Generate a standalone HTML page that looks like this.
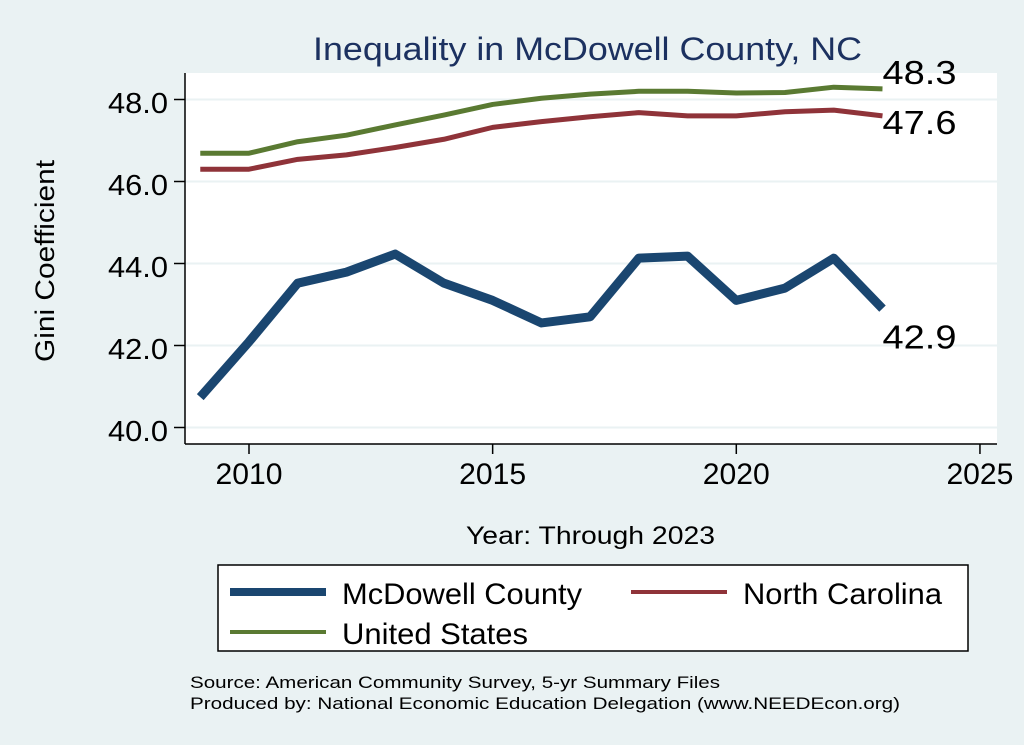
<!DOCTYPE html>
<html><head><meta charset="utf-8"><style>
body{margin:0;background:#eaf2f3;}
svg{display:block;font-family:"Liberation Sans",sans-serif;}
</style></head><body>
<svg width="1024" height="745">
<rect x="0" y="0" width="1024" height="745" fill="#eaf2f3"/>
<text x="313" y="60" font-size="32" fill="#1c3160" textLength="549" lengthAdjust="spacingAndGlyphs">Inequality in McDowell County, NC</text>
<rect x="185" y="73" width="812" height="371" fill="#fff"/>
<g id="grid"></g>
<g id="series"></g>
<g id="axes"></g>
<text transform="translate(54,362) rotate(-90)" font-size="27" fill="#000" textLength="202" lengthAdjust="spacingAndGlyphs">Gini Coefficient</text>
<text x="466" y="544" font-size="25" fill="#000" textLength="249" lengthAdjust="spacingAndGlyphs">Year: Through 2023</text>
<g>
<rect x="218" y="565" width="750" height="86" fill="#fff" stroke="#000" stroke-width="1.5"/>
<g><line x1="230" y1="592" x2="326" y2="592" stroke="#1a4670" stroke-width="8"/><text x="342" y="604" font-size="30" textLength="240" lengthAdjust="spacingAndGlyphs">McDowell County</text></g>
<g><line x1="631" y1="592" x2="727" y2="592" stroke="#8f3339" stroke-width="4"/><text x="743" y="604" font-size="30" textLength="199" lengthAdjust="spacingAndGlyphs">North Carolina</text></g>
<g><line x1="230" y1="632" x2="326" y2="632" stroke="#5a7a32" stroke-width="4"/><text x="342" y="644" font-size="30" textLength="186" lengthAdjust="spacingAndGlyphs">United States</text></g>
</g>
<text x="190" y="688" font-size="17" textLength="530" lengthAdjust="spacingAndGlyphs">Source: American Community Survey, 5-yr Summary Files</text>
<text x="190" y="709" font-size="17" textLength="710" lengthAdjust="spacingAndGlyphs">Produced by: National Economic Education Delegation (www.NEEDEcon.org)</text>
</svg>
<script>
const years=[2009,2010,2011,2012,2013,2014,2015,2016,2017,2018,2019,2020,2021,2022,2023];
const mcdowell=[40.74,42.09,43.52,43.79,44.23,43.52,43.1,42.55,42.7,44.13,44.18,43.1,43.4,44.13,42.9];
const northCarolina=[46.3,46.3,46.54,46.65,46.83,47.03,47.32,47.46,47.58,47.68,47.6,47.6,47.7,47.74,47.6];
const unitedStates=[46.69,46.69,46.97,47.13,47.38,47.62,47.88,48.03,48.13,48.2,48.2,48.16,48.17,48.3,48.26];
const yTicks=[40,42,44,46,48];
const xTicks=[2010,2015,2020,2025];
const endLabels=["42.9","47.6","48.3"];
const NS="http://www.w3.org/2000/svg";
const xs=v=>249+(v-2010)*48.73;
const ys=v=>99.5+(48-v)*41;
function mk(t,a,p){const e=document.createElementNS(NS,t);for(const k in a)e.setAttribute(k,a[k]);p.appendChild(e);return e;}
const grid=document.getElementById('grid'),axes=document.getElementById('axes'),ser=document.getElementById('series');
yTicks.forEach(v=>{
 const g=mk('line',{x1:185,x2:997,y1:ys(v),y2:ys(v),stroke:'#eaf2f3','stroke-width':2},grid);
 
 
 mk('line',{x1:174,x2:185,y1:ys(v),y2:ys(v),stroke:'#000','stroke-width':1.5},axes);
 const t=mk('text',{x:108,y:ys(v)+13.5,'font-size':29,textLength:60,lengthAdjust:'spacingAndGlyphs'},axes);t.textContent=v.toFixed(1);
 
 
});
mk('line',{x1:185,x2:185,y1:73,y2:444,stroke:'#000','stroke-width':1.5},axes);
mk('line',{x1:185,x2:997,y1:444,y2:444,stroke:'#000','stroke-width':1.5},axes);
xTicks.forEach(v=>{
 mk('line',{x1:xs(v),x2:xs(v),y1:444,y2:454,stroke:'#000','stroke-width':1.5},axes);
 const t=mk('text',{x:xs(v)-33.5,y:484,'font-size':30,textLength:67,lengthAdjust:'spacingAndGlyphs'},axes);t.textContent=v;
 
 
});
function line(data,color,w,name){
 const p=mk('polyline',{points:data.map((v,i)=>xs(years[i])+','+ys(v)).join(' '),fill:'none',stroke:color,'stroke-width':w,'stroke-linejoin':'round'},ser);
 
 
}
line(unitedStates,'#5a7a32',5,'us-line');
line(northCarolina,'#8f3339',5,'nc-line');
line(mcdowell,'#1a4670',9,'mcdowell-line');
const lastX=xs(years[years.length-1]);
[[mcdowell,endLabels[0],40],[northCarolina,endLabels[1],18],[unitedStates,endLabels[2],-5]].forEach(([d,l,dy])=>{
 const t=mk('text',{x:lastX+0,y:ys(d[d.length-1])+dy,'font-size':33,textLength:74,lengthAdjust:'spacingAndGlyphs'},ser);t.textContent=l;
 
 
});
</script>
</body></html>
